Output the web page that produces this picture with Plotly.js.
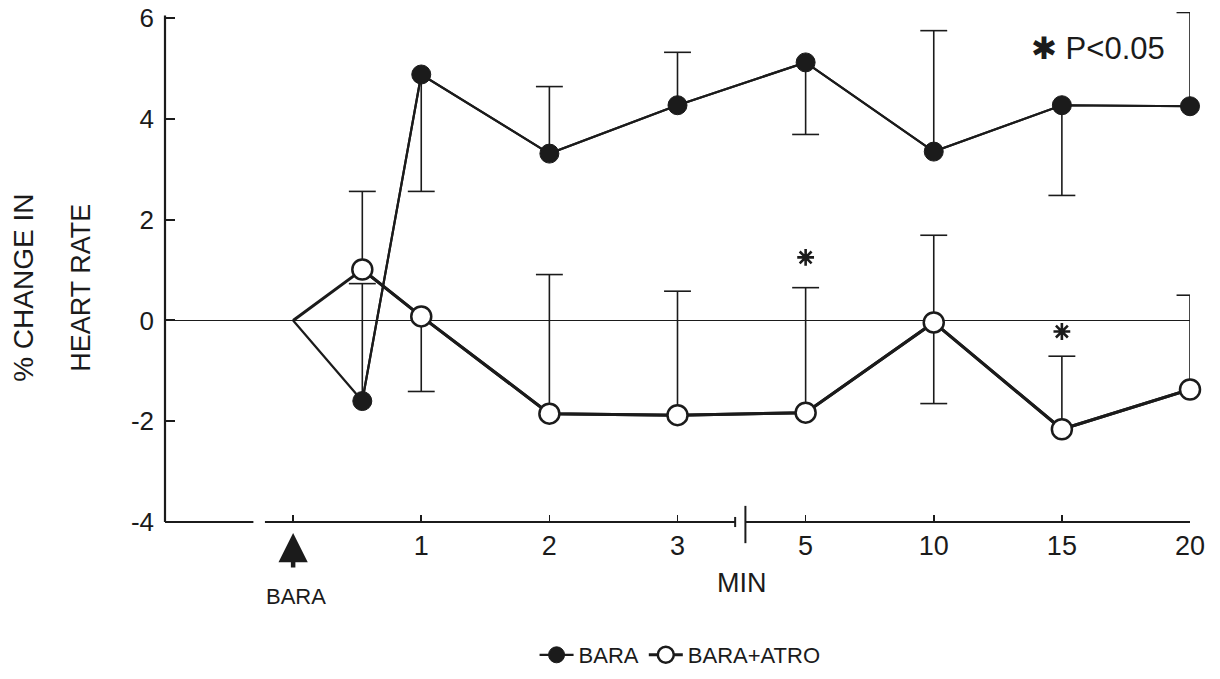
<!DOCTYPE html>
<html><head><meta charset="utf-8">
<script src="https://cdn.plot.ly/plotly-3.0.1.min.js"></script>
<style>html,body{margin:0;padding:0;background:#fff}#chart{width:1220px;height:679px}</style>
</head><body><div id="chart"></div>
<script>
// ---- data ----
const timeLabels = ['BARA', '0.5', '1', '2', '3', '5', '10', '15', '20'];
const timeIndex  = [0, 0.54, 1, 2, 3, 4, 5, 6, 7];   // position on the broken time axis
const tickIndex  = [0, 1, 2, 3, 4, 5, 6, 7];
const tickText   = ['', '1', '2', '3', '5', '10', '15', '20'];
const yTicks     = [-4, -2, 0, 2, 4, 6];
const yTickText  = ['-4', '-2', '0', '2', '4', '6'];

const bara     = [0, -1.6, 4.88, 3.31, 4.27, 5.12, 3.35, 4.27, 4.25];
const baraUp   = [0, 2.33, 0, 1.33, 1.05, 0, 2.4, 0, 1.86];
const baraDown = [0, 0, 2.32, 0, 0, 1.43, 0, 1.79, 0];

const atro     = [0, 1.01, 0.08, -1.85, -1.88, -1.83, -0.04, -2.16, -1.37];
const atroUp   = [0, 1.55, 0, 2.76, 2.46, 2.48, 1.73, 1.45, 1.87];
const atroDown = [0, 0, 1.49, 0, 0, 0, 1.61, 0, 0];

const sigIndex = [4, 6];
const sigY     = [1.25, -0.22];

// ---- helpers ----
const XR = [-1, 7], YR = [-4, 6.12];
const px = v => (v - XR[0]) / (XR[1] - XR[0]);
const py = v => (v - YR[0]) / (YR[1] - YR[0]);
const INK = '#1b1b1b';
const FONT = 'Liberation Sans, Arial, sans-serif';

function errSegments(xs, ys, up, down, cap) {
  const X = [], Y = [];
  for (let i = 0; i < xs.length; i++) {
    [[up[i], 1], [down[i], -1]].forEach(([e, s]) => {
      if (e > 0) {
        const end = ys[i] + s * e;
        X.push(xs[i], xs[i], null, xs[i] - cap, xs[i] + cap, null);
        Y.push(ys[i], end, null, end, end, null);
      }
    });
  }
  return {X, Y};
}
const eB = errSegments(timeIndex, bara, baraUp, baraDown, 0.105);
const eA = errSegments(timeIndex, atro, atroUp, atroDown, 0.105);

const traces = [
  {x: eB.X, y: eB.Y, mode: 'lines', line: {color: INK, width: 1.6}, showlegend: false, hoverinfo: 'skip', cliponaxis: false},
  {x: eA.X, y: eA.Y, mode: 'lines', line: {color: INK, width: 1.6}, showlegend: false, hoverinfo: 'skip', cliponaxis: false},
  {x: timeIndex, y: bara, mode: 'lines', line: {color: INK, width: 2.2}, showlegend: false, hoverinfo: 'skip'},
  {x: timeIndex, y: atro, mode: 'lines', line: {color: INK, width: 3}, showlegend: false, hoverinfo: 'skip'},
  {x: timeIndex.slice(1), y: bara.slice(1), name: 'BARA', mode: 'lines+markers',
   line: {color: INK, width: 2.2},
   marker: {symbol: 'circle', size: 19, color: INK, line: {color: INK, width: 1}}, cliponaxis: false},
  {x: timeIndex.slice(1), y: atro.slice(1), name: 'BARA+ATRO', mode: 'lines+markers',
   line: {color: INK, width: 3},
   marker: {symbol: 'circle', size: 20, color: '#fff', line: {color: INK, width: 2.5}}, cliponaxis: false},
  {x: sigIndex, y: sigY, mode: 'markers', showlegend: false, hoverinfo: 'skip',
   marker: {symbol: 'asterisk-open', size: 14, color: INK, line: {color: INK, width: 2.6}}}
];

const axisY = -4;
const shapes = [
  {type: 'line', xref: 'paper', yref: 'paper', x0: px(-1), x1: px(-1), y0: py(-4), y1: py(6.05), line: {color: INK, width: 2.2}},
  {type: 'line', xref: 'paper', yref: 'paper', x0: px(-1), x1: px(-0.31), y0: py(axisY), y1: py(axisY), line: {color: INK, width: 2}},
  {type: 'line', xref: 'paper', yref: 'paper', x0: px(-0.22), x1: px(3.45), y0: py(axisY), y1: py(axisY), line: {color: INK, width: 2}},
  {type: 'line', xref: 'paper', yref: 'paper', x0: px(3.45), x1: px(3.45), y0: py(-4.1), y1: py(-3.9), line: {color: INK, width: 2}},
  {type: 'line', xref: 'paper', yref: 'paper', x0: px(3.53), x1: px(3.53), y0: py(-4.42), y1: py(-3.68), line: {color: INK, width: 2}},
  {type: 'line', xref: 'paper', yref: 'paper', x0: px(3.53), x1: px(7), y0: py(axisY), y1: py(axisY), line: {color: INK, width: 2}}
];

const ann = (o) => Object.assign({showarrow: false, xanchor: 'center', yanchor: 'middle'}, o);
const annotations = [
  {xref: 'x', yref: 'paper', x: 0, y: py(-4.22), text: '', showarrow: true, arrowhead: 2, arrowsize: 1.3, arrowwidth: 4.5,
   arrowcolor: INK, ax: 0, ay: 36},
  ann({xref: 'x', yref: 'paper', x: 0.02, y: py(-5.48), text: 'BARA', font: {family: FONT, size: 22, color: INK}}),
  ann({xref: 'paper', yref: 'paper', x: px(3.5), y: py(-5.22), text: 'MIN', font: {family: FONT, size: 27, color: INK}}),
  ann({xref: 'paper', yref: 'paper', x: px(6.28), y: py(5.4), text: '✱ P<0.05', font: {family: FONT, size: 31, color: INK}}),
  ann({xref: 'paper', yref: 'paper', x: -0.1376, y: 0.459, text: '% CHANGE IN', textangle: -90, font: {family: FONT, size: 28, color: INK}}),
  ann({xref: 'paper', yref: 'paper', x: -0.0820, y: 0.459, text: 'HEART RATE', textangle: -90, font: {family: FONT, size: 27, color: INK}})
];

const layout = {
  width: 1220, height: 679,
  margin: {l: 165, r: 30, t: 12, b: 157, autoexpand: false},
  paper_bgcolor: '#fff', plot_bgcolor: '#fff',
  font: {family: FONT, color: INK},
  showlegend: true,
  legend: {orientation: 'h', x: px(3.02), xanchor: 'center', y: -0.302, yanchor: 'bottom',
           font: {family: FONT, size: 22, color: INK}, itemwidth: 34},
  xaxis: {range: XR, showgrid: false, zeroline: false, showline: false,
          tickmode: 'array', tickvals: tickIndex, ticktext: tickText,
          ticks: 'inside', ticklen: 7, tickwidth: 1.6, tickcolor: INK,
          tickfont: {family: FONT, size: 27, color: INK}, ticklabelstandoff: 5},
  yaxis: {range: YR, showgrid: false, zeroline: true, zerolinecolor: INK, zerolinewidth: 1.6, showline: false,
          tickmode: 'array', tickvals: yTicks, ticktext: yTickText,
          ticks: 'inside', ticklen: 10, tickwidth: 2, tickcolor: INK,
          tickfont: {family: FONT, size: 26, color: INK}, ticklabelstandoff: 10},
  shapes: shapes,
  annotations: annotations
};

Plotly.newPlot('chart', traces, layout, {displayModeBar: false, staticPlot: true});
</script>
</body></html>
